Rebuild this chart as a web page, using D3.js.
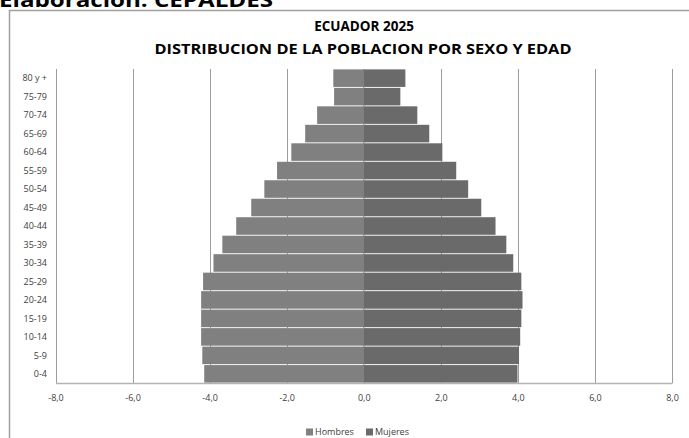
<!DOCTYPE html>
<html>
<head>
<meta charset="utf-8">
<script src="https://cdnjs.cloudflare.com/ajax/libs/d3/7.8.5/d3.min.js"></script>
<style>
  body { margin: 0; background: #fff; }
  svg { display: block; font-family: "Open Sans", "Liberation Sans", sans-serif; }
</style>
</head>
<body>
<div id="chart"></div>
<script>
// Age groups, top to bottom
let grupos = ["80 y +", "75-79", "70-74", "65-69", "60-64", "55-59", "50-54", "45-49",
  "40-44", "35-39", "30-34", "25-29", "20-24", "15-19", "10-14", "5-9", "0-4"];

// Percent of population (Hombres drawn to the left)
let hombres = [0.79, 0.77, 1.21, 1.52, 1.88, 2.25, 2.58, 2.92, 3.31, 3.67, 3.90, 4.17, 4.22, 4.22, 4.22, 4.19, 4.14];
let mujeres = [1.08, 0.95, 1.39, 1.70, 2.04, 2.40, 2.71, 3.05, 3.42, 3.70, 3.88, 4.09, 4.12, 4.09, 4.06, 4.03, 3.99];

let ticks = [-8, -6, -4, -2, 0, 2, 4, 6, 8];
let series = ["Hombres", "Mujeres"];

let W = 689, H = 438;
let colors = { Hombres: "#808080", Mujeres: "#6a6a6a" };

let svg = d3.select("#chart").append("svg")
  .attr("width", W)
  .attr("height", H);

// Source note, cut off at the top like in the original
svg.append("text")
  .attr("x", -1)
  .attr("y", 7)
  .attr("font-size", 20)
  .attr("font-weight", "bold")
  .attr("fill", "#000")
  .attr("textLength", 274)
  .attr("lengthAdjust", "spacingAndGlyphs")
  .text("Elaboración: CEPALDES");

// Chart frame
svg.append("rect")
  .attr("x", 9.5)
  .attr("y", 10.5)
  .attr("width", W + 20)
  .attr("height", H + 20)
  .attr("fill", "none")
  .attr("stroke", "#a0a0a0")
  .attr("stroke-width", 1.5);

// Titles
svg.append("text")
  .attr("x", 364)
  .attr("y", 31)
  .attr("text-anchor", "middle")
  .attr("font-size", 13.5)
  .attr("font-weight", "bold")
  .attr("fill", "#000")
  .text("ECUADOR 2025");

svg.append("text")
  .attr("x", 363)
  .attr("y", 54)
  .attr("text-anchor", "middle")
  .attr("font-size", 14)
  .attr("font-weight", "bold")
  .attr("fill", "#000")
  .attr("textLength", 417)
  .attr("lengthAdjust", "spacingAndGlyphs")
  .text("DISTRIBUCION DE LA POBLACION POR SEXO Y EDAD");

// Scales
let x = d3.scaleLinear().domain([-8, 8]).range([55.5, 672]);
let y = d3.scaleBand().domain(grupos).range([69, 383]).paddingInner(0.05).paddingOuter(0.02);

let fmt = function (d) { return d3.format(".1f")(d).replace(".", ",").replace("−", "-"); };

// Gridlines
svg.append("g")
  .selectAll("line")
  .data(ticks.filter(function (d) { return d !== 0; }))
  .enter().append("line")
  .attr("x1", function (d) { return Math.round(x(d)) + 0.5; })
  .attr("x2", function (d) { return Math.round(x(d)) + 0.5; })
  .attr("y1", 69)
  .attr("y2", 383)
  .attr("stroke", "#9c9c9c")
  .attr("stroke-width", 1);

// Vertical axis at zero
svg.append("line")
  .attr("x1", x(0))
  .attr("x2", x(0))
  .attr("y1", 69)
  .attr("y2", 383)
  .attr("stroke", "#8a8a8a");

// Bars
let rows = grupos.map(function (g, i) {
  return { grupo: g, Hombres: -hombres[i], Mujeres: mujeres[i] };
});

series.forEach(function (s) {
  svg.append("g")
    .selectAll("rect")
    .data(rows)
    .enter().append("rect")
    .attr("x", function (d) { return Math.min(x(0), x(d[s])); })
    .attr("width", function (d) { return Math.abs(x(d[s]) - x(0)); })
    .attr("y", function (d) { return y(d.grupo); })
    .attr("height", y.bandwidth())
    .attr("fill", colors[s]);
});

// Bottom axis
let xAxis = svg.append("g")
  .attr("transform", "translate(0,383)")
  .call(d3.axisBottom(x).tickValues(ticks).tickFormat(fmt).tickSize(0).tickPadding(12));
xAxis.select(".domain").attr("stroke", "#b4b4b4").attr("stroke-width", 1.5);
xAxis.selectAll("text")
  .attr("font-size", 9)
  .attr("fill", "#404040")
  .attr("font-family", "Open Sans, sans-serif");

// Category labels
svg.append("g")
  .selectAll("text")
  .data(grupos)
  .enter().append("text")
  .attr("x", 47)
  .attr("y", function (d) { return y(d) + y.bandwidth() / 2; })
  .attr("dy", "0.35em")
  .attr("text-anchor", "end")
  .attr("font-size", 9)
  .attr("fill", "#404040")
  .text(function (d) { return d; });

// Legend
let legend = svg.append("g");
let lx = [306, 366];
series.forEach(function (s, i) {
  legend.append("rect")
    .attr("x", lx[i])
    .attr("y", 428.5)
    .attr("width", 7)
    .attr("height", 7)
    .attr("fill", colors[s]);
  legend.append("text")
    .attr("x", lx[i] + 9)
    .attr("y", 432)
    .attr("dy", "0.35em")
    .attr("font-size", 9)
    .attr("fill", "#404040")
    .text(s);
});
</script>
</body>
</html>
